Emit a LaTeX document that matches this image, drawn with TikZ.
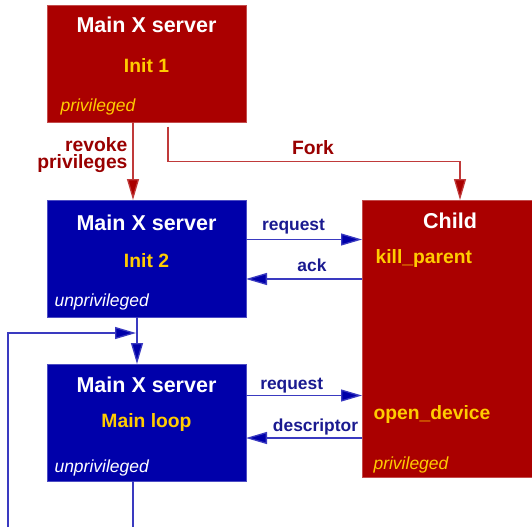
\documentclass[tikz,border=0pt]{standalone}
\usepackage{fontspec}
\setmainfont{Liberation Sans}
\usetikzlibrary{arrows.meta}

\definecolor{boxred}{HTML}{AA0000}
\definecolor{boxblue}{HTML}{0000AA}
\definecolor{labred}{HTML}{990000}
\definecolor{labblue}{HTML}{1A1A90}
\definecolor{linered}{HTML}{C03A3A}
\definecolor{lineblue}{HTML}{3A3AC0}
\definecolor{txtyellow}{HTML}{FFCC00}

\tikzset{
  redbox/.style={fill=boxred, draw=boxred!70!white, line width=0.6pt, inner sep=0pt, outer sep=0pt,
    minimum width=199pt, minimum height=117pt},
  bluebox/.style={redbox, fill=boxblue, draw=boxblue!70!white},
  title/.style={anchor=base, text=white, font=\fontsize{21.5}{24}\selectfont\bfseries},
  part/.style={anchor=base, text=txtyellow, font=\fontsize{19.3}{22}\selectfont\bfseries},
  mode/.style={anchor=base west, text=txtyellow, font=\fontsize{17.5}{20}\selectfont\itshape},
  redlab/.style={text=labred, font=\fontsize{19.3}{16.5}\selectfont\bfseries},
  bluelab/.style={anchor=base, text=labblue, font=\fontsize{17.4}{20}\selectfont\bfseries},
  redline/.style={draw=linered, line width=1.3pt, -{Triangle[length=21pt,width=12pt,fill=boxred]}},
  blueline/.style={draw=lineblue, line width=1.3pt, -{Triangle[length=21pt,width=12pt,fill=boxblue]}},
}

\begin{document}
\begin{tikzpicture}[x=1pt,y=1pt]
    \useasboundingbox (0,0) rectangle (532,-527);

    % init 1
    \node [redbox] (init1) at (146.5,-63.5) {};
    \node [title] (t1) at (146.5,-33) {Main X server};
    \node [part] (p1) at (146.5,-72) {Init 1};
    \node [mode] (m1) at (57,-111) {privileged};

    % init 2
    \node [bluebox] (init2) at (146.5,-258.5) {};
    \node [title] (t2) at (146.5,-230) {Main X server};
    \node [part] (p2) at (146.5,-267.5) {Init 2};
    \node [mode, text=white] (m2) at (51,-306) {unprivileged};

    % main loop
    \node [bluebox] (loop) at (146.5,-422.5) {};
    \node [title] (t3) at (146.5,-392) {Main X server};
    \node [part] (p3) at (146.5,-427) {Main loop};
    \node [mode, text=white] (m3) at (51,-472) {unprivileged};

    % child
    \node [redbox, minimum width=170pt, minimum height=277pt] (child) at (447,-338.5) {};
    \node [title] (tc) at (450,-228.5) {Child};
    \node [part, anchor=base west] (kp) at (372,-263.5) {kill\_parent};
    \node [part, anchor=base west] (od) at (370,-419.5) {open\_device};
    \node [mode] (mc) at (370,-469.5) {privileged};

    % init 1 -> init 2
    \draw [redline] ([xshift=-13.5pt]init1.south) -- ([xshift=-13.5pt]init2.north);
    \node [redlab, anchor=east, align=right] (rev) at (131,-155) {revoke\\privileges};

    % init 1 -> child
    \draw [redline] ([xshift=21.5pt,yshift=-4.5pt]init1.south) |- ++(100,-35) -| ([xshift=13pt]child.north);
    \node [redlab, anchor=base] (fork) at (313,-154) {Fork};

    % init 2 <-> child
    \draw [blueline] ([yshift=19pt]init2.east) -- ([yshift=19pt]init2.east -| child.west);
    \node [bluelab] (rq1) at (293.5,-230.5) {request};
    \draw [blueline] ([yshift=-20.5pt]init2.east -| child.west) -- ([yshift=-20.5pt]init2.east);
    \node [bluelab] (ack) at (312,-271.5) {ack};

    % init 2 -> main loop
    \draw [blueline] ([xshift=-9.5pt]init2.south) -- ([xshift=-9.5pt]loop.north);

    % main loop <-> child
    \draw [blueline] ([yshift=27pt]loop.east) -- ([yshift=27pt]loop.east -| child.west);
    \node [bluelab] (rq2) at (291.7,-389.3) {request};
    \draw [blueline] ([yshift=-15.5pt]loop.east -| child.west) -- ([yshift=-15.5pt]loop.east);
    \node [bluelab] (desc) at (315.5,-431.7) {descriptor};

    % main loop -> main loop
    \coordinate (loopend) at (133,-527);
    \coordinate (loopstart) at (8,-527);
    \coordinate (merge) at (136,-333);
    \draw [draw=lineblue, line width=1.3pt] (loop.south -| loopend) -- (loopend);
    \draw [blueline] (loopstart) |- (merge);
\end{tikzpicture}
\end{document}
